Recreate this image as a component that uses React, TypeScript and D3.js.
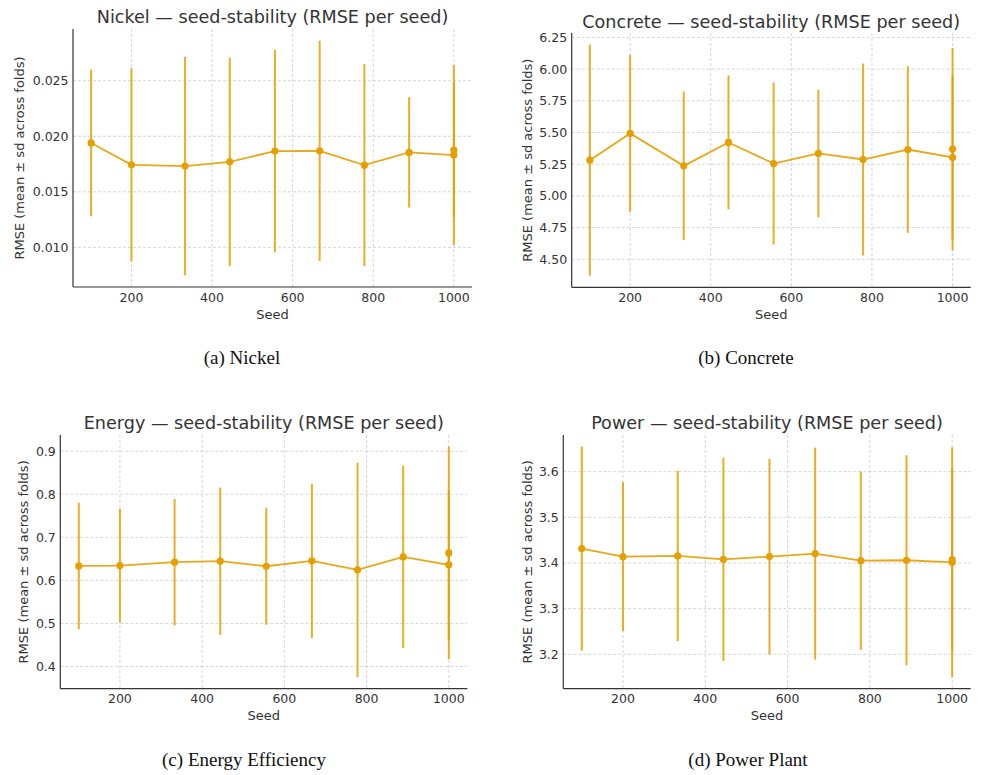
import React from "react";
import * as d3 from "d3";

// seeds (the last seed appears twice in every panel)
const seeds = [100, 200, 333, 444, 556, 667, 778, 889, 1000, 1000];

const nickelMean = [0.0194, 0.01743, 0.01732, 0.0177, 0.01867, 0.01869, 0.0174, 0.01855, 0.01831, 0.01876];
const nickelSd = [0.0066, 0.0087, 0.00983, 0.00939, 0.00912, 0.00991, 0.00909, 0.00497, 0.0081, 0.0061];

const concreteMean = [5.282, 5.493, 5.237, 5.422, 5.255, 5.335, 5.287, 5.366, 5.303, 5.369];
const concreteSd = [0.912, 0.619, 0.586, 0.529, 0.639, 0.503, 0.757, 0.657, 0.644, 0.798];

const energyMean = [0.6336, 0.6343, 0.6422, 0.6445, 0.6328, 0.6452, 0.6242, 0.6545, 0.636, 0.6638];
const energySd = [0.147, 0.132, 0.147, 0.171, 0.136, 0.179, 0.249, 0.2115, 0.175, 0.247];

const powerMean = [3.4315, 3.4139, 3.4154, 3.408, 3.414, 3.4205, 3.405, 3.406, 3.4015, 3.4073];
const powerSd = [0.2235, 0.163, 0.1865, 0.2225, 0.214, 0.232, 0.195, 0.23, 0.2515, 0.2];

const seedTicks = [200, 400, 600, 800, 1000];
const nickelTicks = [0.01, 0.015, 0.02, 0.025];
const concreteTicks = [4.5, 4.75, 5.0, 5.25, 5.5, 5.75, 6.0, 6.25];
const energyTicks = [0.4, 0.5, 0.6, 0.7, 0.8, 0.9];
const powerTicks = [3.2, 3.3, 3.4, 3.5, 3.6];

const ORANGE = "#E69F00";
const INK = "#333333";
const FONT = "DejaVu Sans, sans-serif";

type Box = { left: number; right: number; top: number; bottom: number; titleY: number; ylabX: number };

function pad(lo: number, hi: number): [number, number] {
  const m = (hi - lo) * 0.05;
  return [lo - m, hi + m];
}

function Panel({ box, title, mean, sd, ticks, fmt }: {
  box: Box; title: string; mean: number[]; sd: number[]; ticks: number[]; fmt: string;
}) {
  const { left, right, top, bottom } = box;
  const x = d3.scaleLinear().domain(pad(d3.min(seeds)!, d3.max(seeds)!)).range([left, right]);
  const lo = d3.min(mean.map((m, i) => m - sd[i]))!;
  const hi = d3.max(mean.map((m, i) => m + sd[i]))!;
  const y = d3.scaleLinear().domain(pad(lo, hi)).range([bottom, top]);
  const f = d3.format(fmt);
  const pts = seeds.map((s, i) => ({ s, m: mean[i], e: sd[i] }));
  const line = d3.line<{ s: number; m: number }>().x((d) => x(d.s)).y((d) => y(d.m));

  return (
    <g>
      {/* grid */}
      {seedTicks.map((t) => (
        <line key={"gx" + t} x1={x(t)} x2={x(t)} y1={top} y2={bottom} stroke="#cccccc" strokeWidth={0.8} strokeDasharray="3,2" />
      ))}
      {ticks.map((t) => (
        <line key={"gy" + t} x1={left} x2={right} y1={y(t)} y2={y(t)} stroke="#cccccc" strokeWidth={0.8} strokeDasharray="3,2" />
      ))}
      {/* error bars */}
      {pts.map((d, i) => (
        <line key={"e" + i} x1={x(d.s)} x2={x(d.s)} y1={y(d.m - d.e)} y2={y(d.m + d.e)} stroke={ORANGE} strokeWidth={2} strokeOpacity={0.85} />
      ))}
      <path d={line(pts) || ""} fill="none" stroke={ORANGE} strokeWidth={1.8} strokeOpacity={0.9} />
      {pts.map((d, i) => (
        <circle key={"p" + i} cx={x(d.s)} cy={y(d.m)} r={3.6} fill={ORANGE} />
      ))}
      {/* spines */}
      <line x1={left} x2={left} y1={top} y2={bottom} stroke={INK} strokeWidth={1.2} />
      <line x1={left} x2={right} y1={bottom} y2={bottom} stroke={INK} strokeWidth={1.2} />
      {/* tick labels */}
      {seedTicks.map((t) => (
        <text key={"tx" + t} x={x(t)} y={bottom + 14.5} textAnchor="middle" fontSize={12.5} fontFamily={FONT} fill={INK}>{t}</text>
      ))}
      {ticks.map((t) => (
        <text key={"ty" + t} x={left - 4.5} y={y(t)} dy="0.35em" textAnchor="end" fontSize={12.5} fontFamily={FONT} fill={INK}>{f(t)}</text>
      ))}
      <text x={(left + right) / 2} y={bottom + 31.5} textAnchor="middle" fontSize={13} fontFamily={FONT} fill={INK}>Seed</text>
      <text transform={`translate(${box.ylabX},${(top + bottom) / 2}) rotate(-90)`} dy="0.35em" textAnchor="middle" fontSize={13} fontFamily={FONT} fill={INK}>
        RMSE (mean ± sd across folds)
      </text>
      <text x={(left + right) / 2} y={box.titleY} textAnchor="middle" fontSize={17.6} fontFamily={FONT} fill={INK}>{title}</text>
    </g>
  );
}

export default function App() {
  const boxA: Box = { left: 73, right: 472, top: 29, bottom: 287, titleY: 22.7, ylabX: 19 };
  const boxB: Box = { left: 571.7, right: 970.7, top: 33, bottom: 287.3, titleY: 28, ylabX: 527 };
  const boxC: Box = { left: 60.3, right: 467.3, top: 435, bottom: 688.7, titleY: 429, ylabX: 23 };
  const boxD: Box = { left: 563.3, right: 970.7, top: 435, bottom: 688.7, titleY: 429, ylabX: 527.3 };
  const cap = { fontFamily: "Liberation Serif, Times New Roman, serif", fontSize: 19, fill: "#111" };
  return (
    <svg width={984} height={775} style={{ position: "absolute", left: 0, top: 0, background: "#fff" }}>
      <rect width={984} height={775} fill="#fff" />
      <Panel box={boxA} title="Nickel — seed-stability (RMSE per seed)" mean={nickelMean} sd={nickelSd} ticks={nickelTicks} fmt=".3f" />
      <Panel box={boxB} title="Concrete — seed-stability (RMSE per seed)" mean={concreteMean} sd={concreteSd} ticks={concreteTicks} fmt=".2f" />
      <Panel box={boxC} title="Energy — seed-stability (RMSE per seed)" mean={energyMean} sd={energySd} ticks={energyTicks} fmt=".1f" />
      <Panel box={boxD} title="Power — seed-stability (RMSE per seed)" mean={powerMean} sd={powerSd} ticks={powerTicks} fmt=".1f" />
      <text x={242} y={364} textAnchor="middle" {...cap}>(a) Nickel</text>
      <text x={746} y={364} textAnchor="middle" {...cap}>(b) Concrete</text>
      <text x={244} y={766} textAnchor="middle" {...cap}>(c) Energy Efficiency</text>
      <text x={748} y={766} textAnchor="middle" {...cap}>(d) Power Plant</text>
    </svg>
  );
}
